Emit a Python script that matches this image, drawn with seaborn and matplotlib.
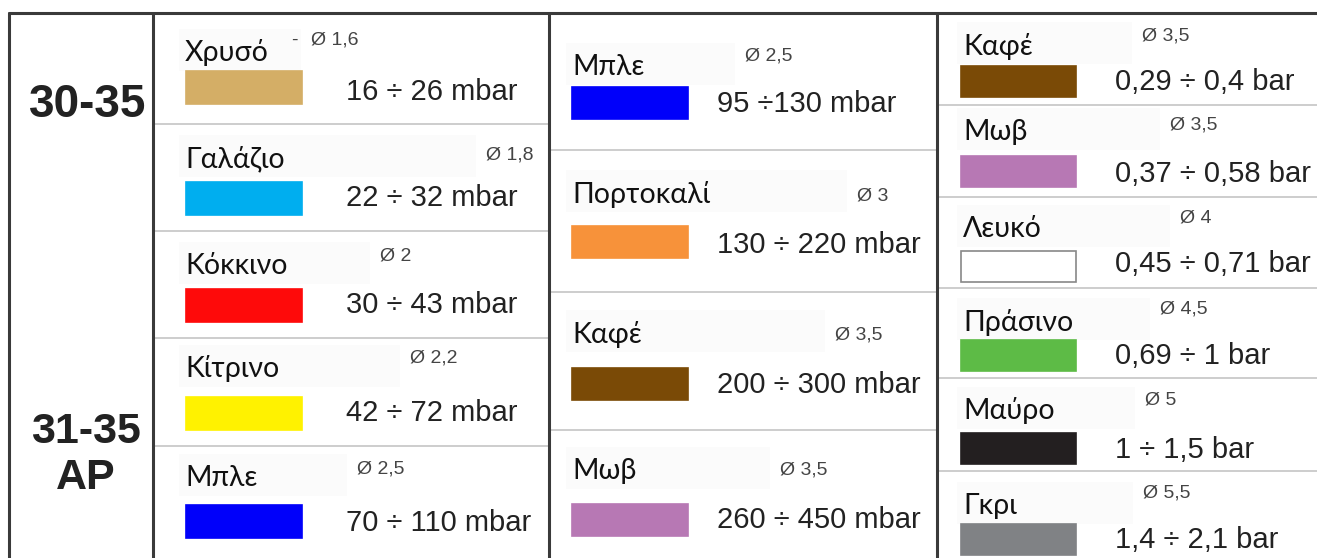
import matplotlib
matplotlib.use("Agg")
import matplotlib.pyplot as plt
import seaborn as sns
from matplotlib.patches import Rectangle

# ---------------- data ----------------
group_labels = ["30-35", "31-35", "AP"]

col1_names = ["Χρυσό", "Γαλάζιο", "Κόκκινο", "Κίτρινο", "Μπλε"]
col1_colors = ["#d4ae66", "#00aeef", "#fe0a0a", "#fff200", "#0000fa"]
col1_diam = [1.6, 1.8, 2, 2.2, 2.5]
col1_ranges = ["16 ÷ 26 mbar", "22 ÷ 32 mbar", "30 ÷ 43 mbar", "42 ÷ 72 mbar", "70 ÷ 110 mbar"]

col2_names = ["Μπλε", "Πορτοκαλί", "Καφέ", "Μωβ"]
col2_colors = ["#0000fa", "#f7923a", "#7a4a06", "#b778b4"]
col2_diam = [2.5, 3, 3.5, 3.5]
col2_ranges = ["95 ÷130 mbar", "130 ÷ 220 mbar", "200 ÷ 300 mbar", "260 ÷ 450 mbar"]

col3_names = ["Καφέ", "Μωβ", "Λευκό", "Πράσινο", "Μαύρο", "Γκρι"]
col3_colors = ["#7a4a06", "#b778b4", "#ffffff", "#5dbb46", "#231f20", "#808285"]
col3_diam = [3.5, 3.5, 4, 4.5, 5, 5.5]
col3_ranges = ["0,29 ÷ 0,4 bar", "0,37 ÷ 0,58 bar", "0,45 ÷ 0,71 bar",
               "0,69 ÷ 1 bar", "1 ÷ 1,5 bar", "1,4 ÷ 2,1 bar"]

# ---------------- layout (pixel positions) ----------------
W, H = 1317, 558
layout = [
    dict(x0=153, x1=549, row_tops=[13, 124, 231, 338, 446],
         name_x=185, sw_x=186, sw_w=116, sw_h=33, range_x=346,
         name_y=[53, 159, 266, 369, 478], sw_y=[71, 182, 289, 397, 505],
         range_y=[92, 198, 305, 413, 523],
         diam_xy=[(311, 40), (486, 155), (380, 256), (410, 358), (357, 469)]),
    dict(x0=549, x1=937, row_tops=[13, 150, 292, 430],
         name_x=572, sw_x=572, sw_w=116, sw_h=32, range_x=717,
         name_y=[67, 194, 334, 471], sw_y=[87, 226, 368, 504],
         range_y=[104, 245, 385, 520],
         diam_xy=[(745, 56), (857, 196), (835, 335), (780, 470)]),
    dict(x0=937, x1=W, row_tops=[13, 105, 197, 288, 378, 471],
         name_x=963, sw_x=961, sw_w=115, sw_h=31, range_x=1115,
         name_y=[46, 132, 229, 322, 411, 506], sw_y=[66, 156, 251, 340, 433, 524],
         range_y=[82, 174, 264, 356, 450, 540],
         diam_xy=[(1142, 36), (1170, 125), (1180, 218), (1160, 309), (1145, 400), (1143, 493)]),
]
columns = [
    (col1_names, col1_colors, col1_diam, col1_ranges),
    (col2_names, col2_colors, col2_diam, col2_ranges),
    (col3_names, col3_colors, col3_diam, col3_ranges),
]

sns.set_theme(style="white")
plt.rcParams["font.family"] = ["Liberation Sans", "DejaVu Sans"]

fig = plt.figure(figsize=(W / 100, H / 100), dpi=100)
ax = fig.add_axes([0, 0, 1, 1])
ax.set_xlim(0, W)
ax.set_ylim(H, 0)
ax.axis("off")

NAME_FONT = ["Lato", "Noto Sans", "DejaVu Sans"]
dark = "#3a3a3a"
light = "#c9c9c9"
txt = "#222222"

def fmt(d):
    return "Ø " + (f"{d:g}").replace(".", ",")

for (names, colors, diams, ranges), L in zip(columns, layout):
    for i, top in enumerate(L["row_tops"]):
        if i > 0:
            ax.plot([L["x0"], L["x1"]], [top, top], color=light, lw=1.3, zorder=2)
    for i, (nm, c, d, r) in enumerate(zip(names, colors, diams, ranges)):
        dx, dy = L["diam_xy"][i]
        # faint background box behind the name
        ax.add_patch(Rectangle((L["name_x"] - 6, L["name_y"][i] - 24), dx - L["name_x"] - 4, 42,
                               facecolor="#fbfbfb", edgecolor="none", zorder=1))
        ax.text(L["name_x"], L["name_y"][i], nm, family=NAME_FONT, fontsize=20.5,
                color="#111111", va="center", ha="left", zorder=3)
        ec = "#888888" if c == "#ffffff" else c
        ax.add_patch(Rectangle((L["sw_x"], L["sw_y"][i]), L["sw_w"], L["sw_h"],
                               facecolor=c, edgecolor=ec, lw=1.2, zorder=3))
        ax.text(L["range_x"], L["range_y"][i], r, fontsize=21, color=txt,
                va="center", ha="left", zorder=3)
        ax.text(dx, dy, fmt(d), fontsize=14, color="#444444", va="center", ha="left", zorder=3)

# the small dash before the first diameter
ax.text(layout[0]["diam_xy"][0][0] - 20, layout[0]["diam_xy"][0][1], "-", fontsize=14,
        color="#444444", va="center", ha="left", zorder=3)

# group labels
ax.text(88, 105, group_labels[0], fontsize=33, fontweight="bold", color="#222222",
        ha="center", va="center")
ax.text(86, 432, group_labels[1], fontsize=31, fontweight="bold", color="#222222",
        ha="center", va="center")
ax.text(86, 478, group_labels[2], fontsize=31, fontweight="bold", color="#222222",
        ha="center", va="center")

# frame
ax.plot([9, W], [13, 13], color=dark, lw=2.2, zorder=4)
for x in [9, 153, 549, 937]:
    ax.plot([x, x], [13, H], color=dark, lw=2.2, zorder=4)

fig.savefig("out.png", dpi=100, facecolor="white")
